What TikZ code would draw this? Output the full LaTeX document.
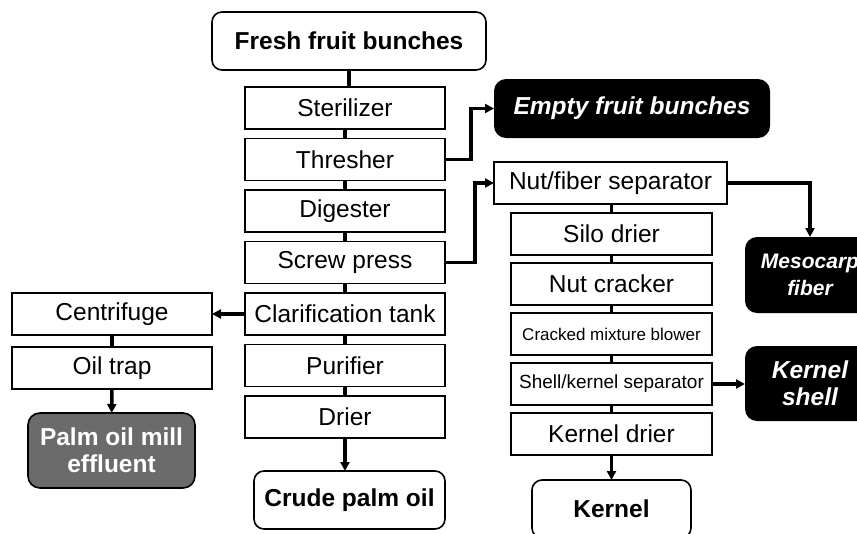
\documentclass[tikz,border=0pt]{standalone}
\usepackage{fontspec}
\setmainfont{Liberation Sans}
\usetikzlibrary{arrows.meta, positioning}

\definecolor{effgray}{gray}{0.42}
\newcommand{\fsz}[1]{\fontsize{#1}{27}\selectfont}

\begin{document}
\begin{tikzpicture}[
  x=1pt, y=-1pt,
  >={Triangle[length=9pt, width=9pt]},
  unitbox/.style={draw, line width=1.6pt, minimum width=200pt, minimum height=42pt,
    inner sep=1pt, outer sep=0pt, font=\fsz{24.5}},
  endbox/.style={draw, line width=1.6pt, rounded corners=10pt, minimum height=58pt,
    inner sep=1pt, outer sep=0pt, font=\fsz{24.5}\bfseries},
  wastebox/.style={fill=black, rounded corners=12pt, text=white, align=center,
    inner sep=1pt, outer sep=0pt, font=\fsz{24.5}\bfseries\itshape},
  effluent/.style={draw, line width=1.6pt, fill=effgray, rounded corners=12pt, text=white,
    align=center, minimum width=167pt, minimum height=75pt, inner sep=1pt, outer sep=0pt,
    font=\fsz{24.5}\bfseries},
  link/.style={line width=3.5pt},
  flow/.style={line width=3.5pt, ->},
]
\path[use as bounding box, clip] (0,0) rectangle (857,533);

% Main line
\node[endbox, minimum width=274pt] (ffb) at (349,41) {Fresh fruit bunches};
\node[unitbox] (steril) at (345,108) {Sterilizer};
\node[unitbox, below=9.5pt of steril] (thresh) {Thresher};
\node[unitbox, below=9.5pt of thresh] (digest) {Digester};
\node[unitbox, below=9.5pt of digest] (press) {Screw press};
\node[unitbox, below=9.5pt of press] (clarif) {Clarification tank};
\node[unitbox, below=9.5pt of clarif] (purif) {Purifier};
\node[unitbox, below=9.5pt of purif] (drier) {Drier};
\node[endbox, minimum width=191pt] (cpo) at (349.5,500) {Crude palm oil};

% Sludge line
\node[unitbox, left=33pt of clarif] (centri) {Centrifuge};
\node[unitbox, below=12pt of centri] (trap) {Oil trap};
\node[effluent] (pome) at (111.5,450.5) {Palm oil mill\\effluent};

% Nut line
\node[unitbox, minimum width=233pt] (nutsep) at (610.5,183) {Nut/fiber separator};
\node[unitbox, minimum width=201pt] (silo) at (611.5,234) {Silo drier};
\node[unitbox, minimum width=201pt, below=8pt of silo] (cracker) {Nut cracker};
\node[unitbox, minimum width=201pt, below=8pt of cracker, font=\fsz{17}] (blower) {Cracked mixture blower};
\node[unitbox, minimum width=201pt, below=8pt of blower, font=\fsz{19}] (sksep) {Shell/kernel separator};
\node[unitbox, minimum width=201pt, below=8pt of sksep] (kdrier) {Kernel drier};
\node[endbox, minimum width=159pt] (kernel) at (611.5,509) {Kernel};

% By-products
\node[wastebox, minimum width=276pt, minimum height=59pt] (efb) at (632,108.5) {Empty fruit bunches};
\node[wastebox, minimum width=130pt, minimum height=76pt, font=\fsz{21}\bfseries\itshape] (meso) at (810,275) {Mesocarp\\fiber};
\node[wastebox, minimum width=130pt, minimum height=75pt] (shell) at (810,383.5) {Kernel\\shell};

% Links
\draw[link] (ffb.south) -- (ffb.south |- steril.north);
\foreach \a/\b in {steril/thresh, thresh/digest, digest/press, press/clarif,
  clarif/purif, purif/drier, centri/trap, silo/cracker, cracker/blower,
  blower/sksep, sksep/kdrier}
  \draw[link] (\a) -- (\b);
\draw[link] (silo.north) -- (silo.north |- nutsep.south);

% Flows
\draw[flow] (thresh.east) -- ++(26,0) |- (efb.west);
\draw[flow] (press.east) -- ++(30,0) |- (nutsep.west);
\draw[flow] (nutsep.east) -| (meso.north);
\draw[flow] (sksep.east) -- (sksep.east -| shell.west);
\draw[flow] (clarif.west) -- (centri.east);
\draw[flow] (trap) -- (pome);
\draw[flow] (drier.south) -- (drier.south |- cpo.north);
\draw[flow] (kdrier) -- (kernel);

\end{tikzpicture}
\end{document}
